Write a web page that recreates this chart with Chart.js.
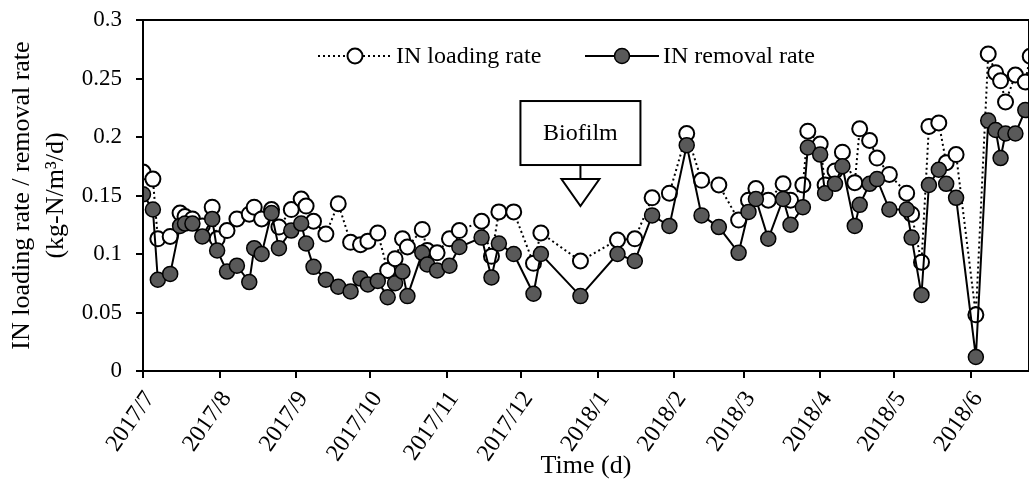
<!DOCTYPE html>
<html>
<head>
<meta charset="utf-8">
<script src="https://cdn.jsdelivr.net/npm/chart.js@4.4.0/dist/chart.umd.min.js"></script>
<style>
  html, body { margin: 0; padding: 0; background: #fff; }
  #wrap { width: 1029px; height: 489px; }
</style>
</head>
<body>
<div id="wrap"><canvas id="inChart" width="1029" height="489"></canvas></div>
<script>
/* IN loading / removal rate, Jul 2017 - Jun 2018 */

const sampleDates = [
  '2017-07-01', '2017-07-05', '2017-07-07', '2017-07-12', '2017-07-16', '2017-07-18', '2017-07-21', '2017-07-25', '2017-07-29', '2017-07-31',
  '2017-08-04', '2017-08-08', '2017-08-13', '2017-08-15', '2017-08-18', '2017-08-22', '2017-08-25', '2017-08-30',
  '2017-09-03', '2017-09-05', '2017-09-08', '2017-09-13', '2017-09-18', '2017-09-23', '2017-09-27', '2017-09-30',
  '2017-10-04', '2017-10-08', '2017-10-11', '2017-10-14', '2017-10-16', '2017-10-22', '2017-10-24', '2017-10-28',
  '2017-11-02', '2017-11-06', '2017-11-15', '2017-11-19', '2017-11-22', '2017-11-28',
  '2017-12-06', '2017-12-09', '2017-12-25',
  '2018-01-09', '2018-01-16', '2018-01-23', '2018-01-30',
  '2018-02-06', '2018-02-12', '2018-02-19', '2018-02-27',
  '2018-03-03', '2018-03-06', '2018-03-11', '2018-03-17', '2018-03-20', '2018-03-25', '2018-03-27',
  '2018-04-01', '2018-04-03', '2018-04-07', '2018-04-10', '2018-04-15', '2018-04-17', '2018-04-21', '2018-04-24', '2018-04-29',
  '2018-05-06', '2018-05-08', '2018-05-12', '2018-05-15', '2018-05-19', '2018-05-22', '2018-05-26',
  '2018-06-03', '2018-06-08', '2018-06-11', '2018-06-13', '2018-06-15', '2018-06-19', '2018-06-23', '2018-06-25'
];

// kg-N/m3/d
const loadingRate = [
  0.170, 0.164, 0.113, 0.115, 0.135, 0.132, 0.130, 0.124, 0.140, 0.113,
  0.120, 0.130, 0.134, 0.140, 0.130, 0.138, 0.123, 0.138,
  0.147, 0.141, 0.128, 0.117, 0.143, 0.110, 0.108, 0.111,
  0.118, 0.086, 0.096, 0.113, 0.106, 0.121, 0.103, 0.101,
  0.113, 0.120, 0.128, 0.098, 0.136, 0.136,
  0.092, 0.118, 0.094,
  0.112, 0.113, 0.148, 0.152,
  0.203, 0.163, 0.159, 0.129,
  0.146, 0.156, 0.146, 0.160, 0.146, 0.159, 0.205,
  0.194, 0.159, 0.171, 0.187, 0.161, 0.207, 0.197, 0.182, 0.168,
  0.152, 0.134, 0.093, 0.209, 0.212, 0.178, 0.185,
  0.048, 0.271, 0.255, 0.248, 0.230, 0.253, 0.247, 0.269
];

const removalRate = [
  0.151, 0.138, 0.078, 0.083, 0.124, 0.126, 0.126, 0.115, 0.130, 0.103,
  0.085, 0.090, 0.076, 0.105, 0.100, 0.135, 0.105, 0.120,
  0.126, 0.109, 0.089, 0.078, 0.072, 0.068, 0.079, 0.074,
  0.077, 0.063, 0.075, 0.085, 0.064, 0.101, 0.091, 0.086,
  0.090, 0.106, 0.114, 0.080, 0.109, 0.100,
  0.066, 0.100, 0.064,
  0.100, 0.094, 0.133, 0.124,
  0.193, 0.133, 0.123, 0.101,
  0.136, 0.147, 0.113, 0.147, 0.125, 0.140, 0.191,
  0.185, 0.152, 0.160, 0.175, 0.124, 0.142, 0.160, 0.164, 0.138,
  0.138, 0.114, 0.065, 0.159, 0.172, 0.160, 0.148,
  0.012, 0.214, 0.206, 0.182, 0.203, 0.203, 0.223, null
];

const monthTicks = [
  '2017-07-01', '2017-08-01', '2017-09-01', '2017-10-01', '2017-11-01', '2017-12-01',
  '2018-01-01', '2018-02-01', '2018-03-01', '2018-04-01', '2018-05-01', '2018-06-01'
];
const monthLabels = [
  '2017/7', '2017/8', '2017/9', '2017/10', '2017/11', '2017/12',
  '2018/1', '2018/2', '2018/3', '2018/4', '2018/5', '2018/6'
];

const axisStart = '2017-07-01';
const axisEndDay = 358.5;
const biofilmDate = '2017-12-25';
const biofilmTip = 0.141;

const SERIF = "'Liberation Serif', 'Times New Roman', serif";

function dayOf(d) {
  return (Date.parse(d) - Date.parse(axisStart)) / 864e5;
}

function toPoints(values) {
  return sampleDates.map((d, i) => ({ x: dayOf(d), y: values[i] }));
}

/* plot frame: top and right edges */
const frame = {
  id: 'frame',
  afterDraw(chart) {
    const { ctx, chartArea: a } = chart;
    ctx.save();
    ctx.strokeStyle = '#000';
    ctx.lineWidth = 2;
    ctx.strokeRect(a.left, a.top, a.right - a.left, a.bottom - a.top);
    ctx.restore();
  }
};

/* legend: line + marker + label */
function legendEntry(ctx, x0, x1, y, dashed, fill, label, tx) {
  ctx.save();
  ctx.strokeStyle = '#000';
  ctx.lineWidth = 2;
  ctx.setLineDash(dashed ? [2, 3] : []);
  ctx.beginPath();
  ctx.moveTo(x0, y);
  ctx.lineTo(x1, y);
  ctx.stroke();
  ctx.setLineDash([]);
  ctx.beginPath();
  ctx.arc((x0 + x1) / 2, y, 7.5, 0, Math.PI * 2);
  ctx.fillStyle = fill;
  ctx.fill();
  ctx.lineWidth = dashed ? 2 : 1.5;
  ctx.stroke();
  ctx.fillStyle = '#000';
  ctx.font = '24px ' + SERIF;
  ctx.textAlign = 'left';
  ctx.textBaseline = 'middle';
  ctx.fillText(label, tx, y + 1);
  ctx.restore();
}

const legendBox = {
  id: 'legendBox',
  afterDraw(chart) {
    const ctx = chart.ctx;
    legendEntry(ctx, 318, 392, 56, true, '#fff', 'IN loading rate', 396);
    legendEntry(ctx, 585, 659, 56, false, '#595959', 'IN removal rate', 663);
  }
};

/* "Biofilm" callout with arrow down to the start date */
const biofilmCallout = {
  id: 'biofilmCallout',
  afterDraw(chart) {
    const { ctx, scales } = chart;
    const cx = scales.x.getPixelForValue(dayOf(biofilmDate));
    const tipY = scales.y.getPixelForValue(biofilmTip);
    ctx.save();
    ctx.strokeStyle = '#000';
    ctx.lineWidth = 2;
    ctx.fillStyle = '#fff';
    // arrow head
    ctx.beginPath();
    ctx.moveTo(cx - 19, tipY - 27);
    ctx.lineTo(cx + 19, tipY - 27);
    ctx.lineTo(cx, tipY);
    ctx.closePath();
    ctx.fill();
    ctx.stroke();
    // stem
    ctx.beginPath();
    ctx.moveTo(cx, tipY - 27);
    ctx.lineTo(cx, tipY - 41);
    ctx.stroke();
    // box
    ctx.fillRect(cx - 60, tipY - 105, 120, 64);
    ctx.strokeRect(cx - 60, tipY - 105, 120, 64);
    ctx.fillStyle = '#000';
    ctx.font = '24px ' + SERIF;
    ctx.textAlign = 'center';
    ctx.textBaseline = 'middle';
    ctx.fillText('Biofilm', cx, tipY - 72);
    ctx.restore();
  }
};

new Chart(document.getElementById('inChart'), {
  type: 'line',
  data: {
    datasets: [
      {
        label: 'IN removal rate',
        data: toPoints(removalRate),
        order: 1,
        borderColor: '#000',
        borderWidth: 2,
        pointRadius: 7.5,
        pointBackgroundColor: '#595959',
        pointBorderColor: '#000',
        pointBorderWidth: 1.5,
        tension: 0
      },
      {
        label: 'IN loading rate',
        data: toPoints(loadingRate),
        order: 2,
        borderColor: '#000',
        borderWidth: 2,
        borderDash: [2, 3],
        pointRadius: 7.5,
        pointBackgroundColor: '#fff',
        pointBorderColor: '#000',
        pointBorderWidth: 2,
        tension: 0
      }
    ]
  },
  options: {
    responsive: false,
    animation: false,
    layout: { autoPadding: false, padding: { top: 20, right: -2, left: 0, bottom: 0 } },
    plugins: {
      legend: { display: false },
      tooltip: { enabled: false }
    },
    scales: {
      x: {
        type: 'linear',
        min: 0,
        max: axisEndDay,
        afterFit: s => { s.height = 118; s.paddingLeft = 0; s.paddingRight = 0; },
        afterBuildTicks: s => { s.ticks = monthTicks.map(d => ({ value: dayOf(d) })); },
        grid: { drawOnChartArea: false, drawTicks: true, tickLength: 7, color: '#000', lineWidth: 2 },
        border: { display: true, color: '#000', width: 2 },
        ticks: {
          autoSkip: false,
          minRotation: 55,
          maxRotation: 55,
          padding: 8,
          labelOffset: 7,
          color: '#000',
          font: { family: SERIF, size: 24 },
          callback: (v, i) => monthLabels[i]
        },
        title: {
          display: true,
          text: 'Time (d)',
          color: '#000',
          font: { family: SERIF, size: 26 },
          padding: { top: 0, bottom: 7 }
        }
      },
      y: {
        min: 0,
        max: 0.3,
        afterFit: s => { s.width = 143; s.paddingTop = 0; s.paddingBottom = 0; },
        grid: { drawOnChartArea: false, drawTicks: true, tickLength: 7, color: '#000', lineWidth: 2 },
        border: { display: true, color: '#000', width: 2 },
        ticks: {
          stepSize: 0.05,
          padding: 14,
          color: '#000',
          font: { family: SERIF, size: 23 },
          callback: v => String(+v.toFixed(2))
        },
        title: {
          display: true,
          text: ['IN loading rate / removal rate', '(kg-N/m\u00b3/d)'],
          color: '#000',
          font: { family: SERIF, size: 26, lineHeight: 1.3 },
          padding: { top: 5, bottom: 0 }
        }
      }
    }
  },
  plugins: [frame, legendBox, biofilmCallout]
});
</script>
</body>
</html>
